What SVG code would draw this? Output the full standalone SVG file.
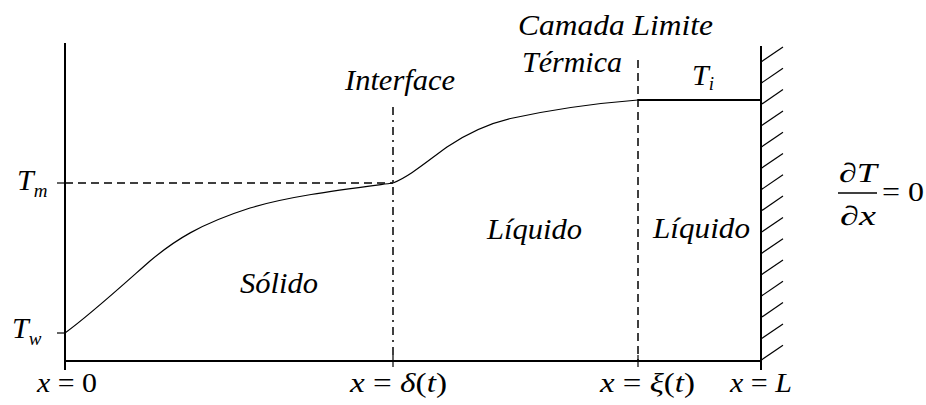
<svg xmlns="http://www.w3.org/2000/svg" width="926" height="405" viewBox="0 0 926 405">
<style>
.lbl{font-family:"Liberation Serif","Times New Roman",serif;font-style:italic;font-size:30px;fill:#000}
.math{font-family:"Liberation Serif","Times New Roman",serif;font-size:27px;fill:#000}
.it{font-style:italic}
.axis{stroke:#000;stroke-width:2;fill:none}
.thin{stroke:#000;stroke-width:1.2;fill:none}
.dash{stroke:#000;stroke-width:1.5;fill:none;stroke-dasharray:8,5}
.dashdot{stroke:#000;stroke-width:1.5;fill:none;stroke-dasharray:8,5,2,5}
</style>
<rect width="926" height="405" fill="#fff"/>
<g id="axes">
<line class="axis" x1="65" y1="43" x2="65" y2="370"/>
<line class="axis" x1="65" y1="361" x2="761" y2="361"/>
<line class="thin" x1="57" y1="183" x2="65" y2="183"/>
<line class="thin" x1="57" y1="333" x2="65" y2="333"/>
<line class="thin" x1="393" y1="355" x2="393" y2="367"/>
<line class="thin" x1="638" y1="355" x2="638" y2="367"/>
</g>
<g id="wall">
<line class="axis" x1="761" y1="46" x2="761" y2="370"/>
<g class="thin">
<line x1="761" y1="62" x2="783" y2="47"/>
<line x1="761" y1="83.3" x2="783" y2="68.3"/>
<line x1="761" y1="104.6" x2="783" y2="89.6"/>
<line x1="761" y1="125.9" x2="783" y2="110.9"/>
<line x1="761" y1="147.2" x2="783" y2="132.2"/>
<line x1="761" y1="168.5" x2="783" y2="153.5"/>
<line x1="761" y1="189.8" x2="783" y2="174.8"/>
<line x1="761" y1="211.1" x2="783" y2="196.1"/>
<line x1="761" y1="232.4" x2="783" y2="217.4"/>
<line x1="761" y1="253.7" x2="783" y2="238.7"/>
<line x1="761" y1="275" x2="783" y2="260"/>
<line x1="761" y1="296.3" x2="783" y2="281.3"/>
<line x1="761" y1="317.6" x2="783" y2="302.6"/>
<line x1="761" y1="338.9" x2="783" y2="323.9"/>
<line x1="761" y1="360.2" x2="783" y2="345.2"/>
</g>
</g>
<g id="connectors">
<line class="dash" x1="65" y1="183" x2="393" y2="183"/>
<line class="dashdot" x1="393" y1="107" x2="393" y2="361"/>
<line class="dash" x1="638" y1="60" x2="638" y2="361"/>
<path class="thin" d="M65,333 C90,315 125,283 150,261 C175,240 200,224 250,208 C290,196 340,190 393,183"/>
<path class="thin" d="M393,183 C410,176 425,163 447,147 C465,135 490,123 513,118 C550,110 600,103 638,100"/>
<line class="axis" x1="638" y1="100" x2="761" y2="100"/>
</g>
<g id="labels">
<text class="lbl" x="518" y="35" textLength="195" lengthAdjust="spacingAndGlyphs">Camada Limite</text>
<text class="lbl" x="522" y="72" textLength="100" lengthAdjust="spacingAndGlyphs">Térmica</text>
<text class="lbl" x="345" y="90" textLength="110" lengthAdjust="spacingAndGlyphs">Interface</text>
<text class="lbl" x="240" y="293" textLength="78" lengthAdjust="spacingAndGlyphs">Sólido</text>
<text class="lbl" x="487" y="239" textLength="95" lengthAdjust="spacingAndGlyphs">Líquido</text>
<text class="lbl" x="653" y="238" textLength="97" lengthAdjust="spacingAndGlyphs">Líquido</text>
<text class="lbl" x="692" y="85">T<tspan font-size="19" dy="5">i</tspan></text>
<text class="lbl" x="17" y="190">T<tspan font-size="19" dy="7">m</tspan></text>
<text class="lbl" x="12" y="338">T<tspan font-size="19" dy="7">w</tspan></text>
</g>
<g id="axis-labels" class="math">
<text x="37" y="392" textLength="60" lengthAdjust="spacingAndGlyphs"><tspan class="it">x</tspan> = 0</text>
<text x="350" y="392" textLength="97" lengthAdjust="spacingAndGlyphs"><tspan class="it">x</tspan> = <tspan class="it">δ</tspan>(<tspan class="it">t</tspan>)</text>
<text x="600" y="392" textLength="95" lengthAdjust="spacingAndGlyphs"><tspan class="it">x</tspan> = <tspan class="it">ξ</tspan>(<tspan class="it">t</tspan>)</text>
<text x="730" y="392" textLength="62" lengthAdjust="spacingAndGlyphs"><tspan class="it">x</tspan> = <tspan class="it">L</tspan></text>
</g>
<g id="bc" class="math">
<text x="839" y="182" textLength="38" lengthAdjust="spacingAndGlyphs">∂<tspan class="it">T</tspan></text>
<line x1="838" y1="193" x2="877" y2="193" stroke="#000" stroke-width="1.5"/>
<text x="840" y="225" textLength="36" lengthAdjust="spacingAndGlyphs">∂<tspan class="it">x</tspan></text>
<text x="882" y="201" textLength="42" lengthAdjust="spacingAndGlyphs">= 0</text>
</g>
</svg>
